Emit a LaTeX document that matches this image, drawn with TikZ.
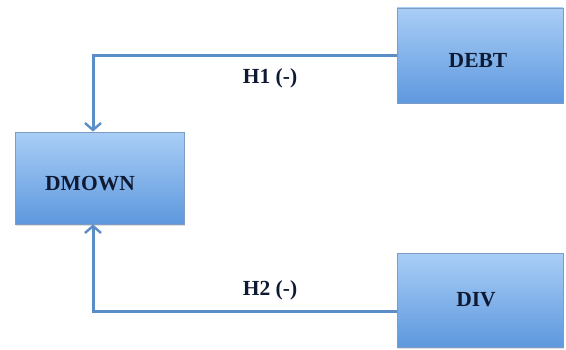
\documentclass[tikz,border=0pt]{standalone}
\usepackage{fontspec}
\setmainfont{Liberation Serif}
\usetikzlibrary{shadows,arrows.meta}
\definecolor{boxtop}{HTML}{A9CEF6}
\definecolor{boxbot}{HTML}{5E98DE}
\definecolor{boxline}{HTML}{7C9CC4}
\definecolor{conncol}{HTML}{5B8DC6}
\definecolor{txtcol}{HTML}{0E1A33}
\tikzset{
  varbox/.style={draw=boxline, line width=0.8pt, top color=boxtop, bottom color=boxbot,
    drop shadow={opacity=0.25, shadow xshift=1.2pt, shadow yshift=-1.5pt},
    minimum width=#1, inner sep=0pt, font=\fontsize{21.5}{25}\selectfont\bfseries, text=txtcol},
  conn/.style={draw=conncol, line width=3pt, -{Straight Barb[length=7pt,width=16pt,line width=2.4pt]}},
  lbl/.style={font=\fontsize{21.5}{25}\selectfont\bfseries, text=txtcol}
}
\begin{document}
\begin{tikzpicture}[x=1pt,y=1pt]
\useasboundingbox (0,0) rectangle (566,349);
\node[varbox=166pt, minimum height=95pt] (debt) at (480,293.5) {};
\node[varbox=169pt, minimum height=92pt] (dmown) at (99.5,171) {};
\node[varbox=166pt, minimum height=94pt] (div) at (480,49) {};
\node[lbl] (tdebt) at (478,289) {DEBT};
\node[lbl] (tdmown) at (90,165) {DMOWN};
\node[lbl] (tdiv) at (476,49) {DIV};
\draw[conn] (debt.west) -| ([xshift=-6.5pt]dmown.north);
\draw[conn] ([yshift=-11pt]div.west) -| ([xshift=-6.5pt]dmown.south);
\node[lbl] (h1) at (270,271) {H1 (-)};
\node[lbl] (h2) at (270,59) {H2 (-)};
\end{tikzpicture}
\end{document}
